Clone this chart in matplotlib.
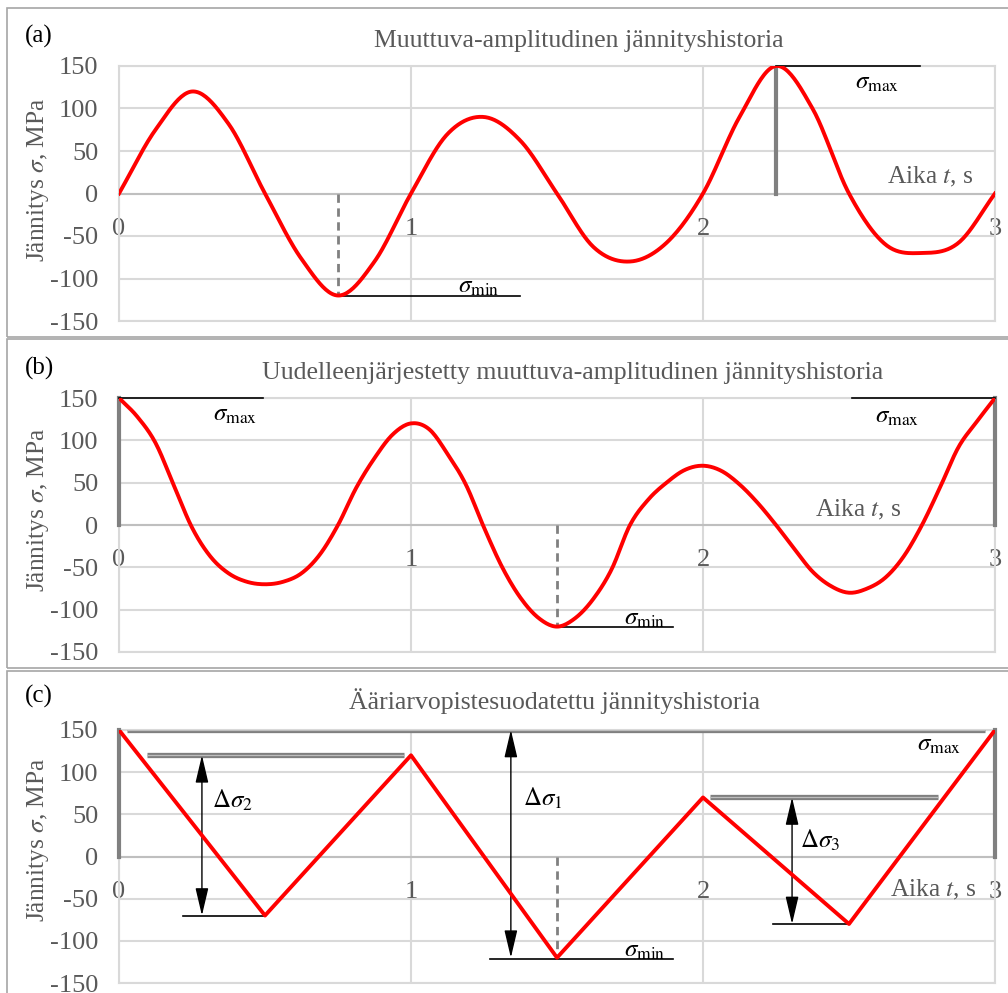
import numpy as np
import matplotlib
matplotlib.use("Agg")
import matplotlib.pyplot as plt
from matplotlib.patches import Rectangle

plt.rcParams['font.family'] = ['Liberation Serif', 'DejaVu Serif']
plt.rcParams['mathtext.fontset'] = 'stix'
plt.rcParams['axes.unicode_minus'] = False

# (a) variable amplitude history, sampled every 1/8 s
t_a = np.linspace(0, 3, 25)
s_a = [0, 75, 120, 82, 0, -77, -120, -80, 0, 70, 90, 62, 0, -63, -80, -58,
       0, 90, 150, 100, 0, -60, -70, -58, 0]

# (b) rearranged history, sampled every 1/16 s
t_b = np.linspace(0, 3, 49)
s_b = [150, 128, 97, 47, -3, -37, -57, -67, -70, -67, -57, -35,
       0, 44, 79, 107, 120, 113, 84, 48, -3, -50, -86, -110,
       -120, -110, -87, -52, 0, 30, 50, 65, 70, 64, 48, 26,
       0, -28, -55, -72, -80, -75, -62, -37, 0, 45, 92, 122, 150]

# (c) peak-valley filtered history
t_c = [0, 0.5, 1, 1.5, 2, 2.5, 3]
s_c = [150, -70, 120, -120, 70, -80, 150]

titles = ["Muuttuva-amplitudinen jännityshistoria",
          "Uudelleenjärjestetty muuttuva-amplitudinen jännityshistoria",
          "Ääriarvopistesuodatettu jännityshistoria"]
panel_tags = ["(a)", "(b)", "(c)"]
yticks = [-150, -100, -50, 0, 50, 100, 150]
xticks = [0, 1, 2, 3]

GRAY_TXT = '#595959'
W, H = 1008, 993


def smooth(t, v, n=24):
    # Excel style smoothed line (Catmull-Rom)
    P = np.column_stack([np.asarray(t, float), np.asarray(v, float)])
    E = np.vstack([2 * P[0] - P[1], P, 2 * P[-1] - P[-2]])
    s = np.linspace(0, 1, n, endpoint=False)[:, None]
    h00 = 2 * s**3 - 3 * s**2 + 1
    h10 = s**3 - 2 * s**2 + s
    h01 = -2 * s**3 + 3 * s**2
    h11 = s**3 - s**2
    out = []
    for i in range(len(P) - 1):
        p0, p1, p2, p3 = E[i], E[i + 1], E[i + 2], E[i + 3]
        m1 = (p2 - p0) / 2
        m2 = (p3 - p1) / 2
        out.append(h00 * p1 + h10 * m1 + h01 * p2 + h11 * m2)
    out.append(P[-1:])
    out = np.vstack(out)
    return out[:, 0], out[:, 1]


fig = plt.figure(figsize=(W / 100, H / 100), dpi=100)

# panel frames
for top, bot in [(8, 337), (339, 668), (671, 1000)]:
    fig.add_artist(Rectangle((7 / W, 1 - bot / H), 1.2, (bot - top) / H,
                             transform=fig.transFigure, fill=False,
                             edgecolor='#a6a6a6', lw=1.2))


def make_ax(top, bot):
    ax = fig.add_axes([119 / W, 1 - bot / H, 876 / W, (bot - top) / H])
    ax.set_xlim(0, 3)
    ax.set_ylim(-150, 150)
    ax.set_yticks(yticks)
    ax.set_xticks(xticks)
    ax.grid(True, color='#d9d9d9', lw=1.5)
    ax.set_axisbelow(True)
    for sp in ['top', 'right', 'left']:
        ax.spines[sp].set_color('#d9d9d9')
        ax.spines[sp].set_linewidth(1.5)
    ax.spines['bottom'].set_position(('data', 0))
    ax.spines['bottom'].set_color('#bfbfbf')
    ax.spines['bottom'].set_linewidth(1.5)
    ax.axhline(-150, color='#d9d9d9', lw=1.5, clip_on=False, zorder=0.5)
    ax.tick_params(length=0, labelsize=19, labelcolor=GRAY_TXT)
    ax.tick_params(axis='y', pad=15)
    ax.tick_params(axis='x', pad=17.5)
    return ax


ax_a = make_ax(66, 321)
ax_b = make_ax(398, 652)
ax_c = make_ax(730, 983)

# titles, tags, y labels
for title, tag, ty, cx, ly in zip(titles, panel_tags, [41, 373, 701],
                                  [579, 573, 555], [180, 510, 840]):
    fig.text(cx / W, 1 - ty / H, title, ha='center', va='center',
             color=GRAY_TXT, fontsize=18.5)
    fig.text(25 / W, 1 - (ty - 5) / H, tag, ha='left', va='center',
             color='black', fontsize=18)
    fig.text(38 / W, 1 - ly / H, 'Jännitys $\\sigma$, MPa', rotation=90,
             ha='center', va='center', color=GRAY_TXT, fontsize=18.3)

RED = '#ff0000'
DGRAY = '#808080'
FS = 18
AFS = 18.3

# ---- (a)
x, y = smooth(t_a, s_a)
ax_a.plot(x, y, color=RED, lw=2.8, zorder=4)
ax_a.plot([0.75, 0.75], [0, -120], color=DGRAY, lw=2, ls=(0, (3, 2)), zorder=3)
ax_a.plot([0.75, 1.373], [-120, -120], color='black', lw=1.2, zorder=3)
ax_a.text(1.233, -110, '$\\sigma_{\\mathrm{min}}$', ha='center', va='center', fontsize=FS)
ax_a.plot([2.25, 2.25], [0, 150], color=DGRAY, lw=3, zorder=3)
ax_a.plot([2.25, 2.743], [150, 150], color='black', lw=1.2, zorder=3, clip_on=False)
ax_a.text(2.596, 130, '$\\sigma_{\\mathrm{max}}$', ha='center', va='center', fontsize=FS)
ax_a.text(2.777, 19, 'Aika $t$, s', ha='center', va='center', color=GRAY_TXT, fontsize=AFS)

# ---- (b)
x, y = smooth(t_b, s_b, n=12)
ax_b.plot(x, y, color=RED, lw=2.8, zorder=4)
ax_b.plot([0, 0], [0, 150], color=DGRAY, lw=3, zorder=3, clip_on=False)
ax_b.plot([0, 0.493], [150, 150], color='black', lw=1.2, zorder=3, clip_on=False)
ax_b.text(0.397, 130, '$\\sigma_{\\mathrm{max}}$', ha='center', va='center', fontsize=FS)
ax_b.plot([3, 3], [0, 150], color=DGRAY, lw=3, zorder=3, clip_on=False)
ax_b.plot([2.51, 3], [150, 150], color='black', lw=1.2, zorder=3, clip_on=False)
ax_b.text(2.664, 128, '$\\sigma_{\\mathrm{max}}$', ha='center', va='center', fontsize=FS)
ax_b.plot([1.5, 1.5], [0, -120], color=DGRAY, lw=2, ls=(0, (3, 2)), zorder=3)
ax_b.plot([1.5, 1.897], [-121, -121], color='black', lw=1.2, zorder=3)
ax_b.text(1.80, -111, '$\\sigma_{\\mathrm{min}}$', ha='center', va='center', fontsize=FS)
ax_b.text(2.53, 18, 'Aika $t$, s', ha='center', va='center', color=GRAY_TXT, fontsize=AFS)

# ---- (c)
ax_c.plot(t_c, s_c, color=RED, lw=2.8, zorder=4)


def double_line(ax, x0, x1, v):
    ax.plot([x0, x1], [v, v], color='#7f7f7f', lw=3.8, zorder=3, solid_capstyle='butt')
    ax.plot([x0, x1], [v, v], color='#bdbdbd', lw=0.9, zorder=3.1, solid_capstyle='butt')


def arrow(ax, t, v0, v1):
    ax.annotate('', xy=(t, v0), xytext=(t, v1), zorder=3,
                arrowprops=dict(arrowstyle='<|-|>,head_length=0.85,head_width=0.2',
                                color='black', lw=1, shrinkA=0, shrinkB=0,
                                mutation_scale=20))


ax_c.plot([0, 0], [0, 150], color=DGRAY, lw=3, zorder=3, clip_on=False)
ax_c.plot([3, 3], [0, 150], color=DGRAY, lw=3, zorder=3, clip_on=False)
double_line(ax_c, 0.027, 2.966, 150)
double_line(ax_c, 0.096, 0.976, 120)
double_line(ax_c, 2.024, 2.805, 70)
arrow(ax_c, 0.284, 120, -70)
ax_c.plot([0.22, 0.5], [-70, -70], color='black', lw=1.2, zorder=3)
ax_c.text(0.39, 66, '$\\Delta\\sigma_2$', ha='center', va='center', fontsize=FS)
arrow(ax_c, 1.342, 150, -120)
ax_c.plot([1.27, 1.897], [-122, -122], color='black', lw=1.2, zorder=3)
ax_c.text(1.452, 69, '$\\Delta\\sigma_1$', ha='center', va='center', fontsize=FS)
ax_c.plot([1.5, 1.5], [0, -120], color=DGRAY, lw=2, ls=(0, (3, 2)), zorder=3)
ax_c.text(1.80, -112, '$\\sigma_{\\mathrm{min}}$', ha='center', va='center', fontsize=FS)
arrow(ax_c, 2.305, 70, -80)
ax_c.plot([2.24, 2.5], [-80, -80], color='black', lw=1.2, zorder=3)
ax_c.text(2.40, 19, '$\\Delta\\sigma_3$', ha='center', va='center', fontsize=FS)
ax_c.text(2.81, 132, '$\\sigma_{\\mathrm{max}}$', ha='center', va='center', fontsize=FS)
ax_c.text(2.79, -40, 'Aika $t$, s', ha='center', va='center', color=GRAY_TXT, fontsize=AFS)

fig.savefig('out.png', dpi=100)
